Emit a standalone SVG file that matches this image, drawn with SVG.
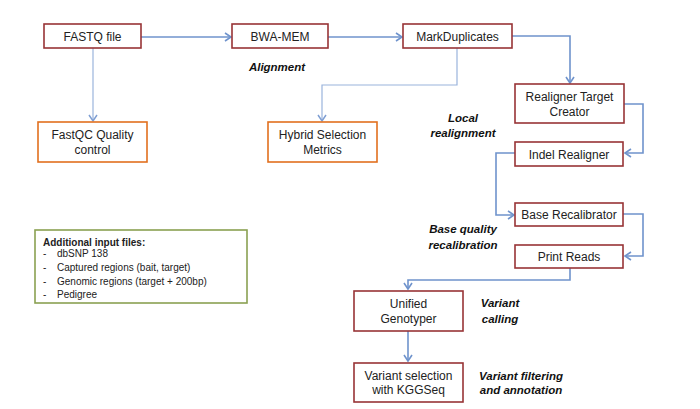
<svg xmlns="http://www.w3.org/2000/svg" width="700" height="409" viewBox="0 0 700 409">
<defs>
<marker id="arr" markerWidth="10" markerHeight="10" refX="7" refY="5" orient="auto" markerUnits="userSpaceOnUse">
<path d="M1,1 L7,5 L1,9" fill="none" stroke="#6F93CC" stroke-width="1.6"/>
</marker>
<marker id="arrl" markerWidth="10" markerHeight="10" refX="7" refY="5" orient="auto" markerUnits="userSpaceOnUse">
<path d="M1,1 L7,5 L1,9" fill="none" stroke="#7E9ED3" stroke-width="1.5"/>
</marker>
</defs>
<style>
.n{fill:#fff;stroke:#983436;stroke-width:1.6}
.o{fill:#fff;stroke:#E1701E;stroke-width:1.6}
.g{fill:#fff;stroke:#8AA152;stroke-width:1.6}
.t{font-family:"Liberation Sans",Arial,sans-serif;font-size:12px;fill:#222;text-anchor:middle}
.l{font-family:"Liberation Sans",Arial,sans-serif;font-size:11.5px;font-weight:bold;font-style:italic;fill:#111;text-anchor:middle}
.s{font-family:"Liberation Sans",Arial,sans-serif;font-size:10px;fill:#222}
.c{fill:none;stroke:#6F93CC;stroke-width:1.6}
.cl{fill:none;stroke:#9AB4DC;stroke-width:1.2}
</style>
<rect width="700" height="409" fill="#fff"/>
<g id="connectors">
<path class="c" d="M141,37 H231" marker-end="url(#arr)"/>
<path class="c" d="M328,37 H402" marker-end="url(#arr)"/>
<path class="c" d="M512,36 H570 V83" marker-end="url(#arr)"/>
<path class="cl" d="M93,48 V121" marker-end="url(#arrl)"/>
<path class="cl" d="M457,48 V85 H322 V121" marker-end="url(#arrl)"/>
<path class="c" d="M624,104 H643 V153 H625" marker-end="url(#arr)"/>
<path class="c" d="M515,153 H496 V215 H514" marker-end="url(#arr)"/>
<path class="c" d="M623,214 H643 V256 H625" marker-end="url(#arr)"/>
<path class="c" d="M570,268 V280 H408 V289" marker-end="url(#arr)"/>
<path class="c" d="M408,331 V361" marker-end="url(#arr)"/>
</g>
<g id="fastq"><rect class="n" x="44" y="24" width="97" height="24"/><text class="t" x="92.5" y="40.5">FASTQ file</text></g>
<g id="bwa"><rect class="n" x="232" y="24" width="96" height="24"/><text class="t" x="280" y="40.5">BWA-MEM</text></g>
<g id="markdup"><rect class="n" x="403" y="24" width="109" height="24"/><text class="t" x="457.5" y="40.5">MarkDuplicates</text></g>
<g id="fastqc"><rect class="o" x="38" y="122" width="109" height="40"/><text class="t" x="92.5" y="139">FastQC Quality</text><text class="t" x="92.5" y="154">control</text></g>
<g id="hybrid"><rect class="o" x="268" y="122" width="109" height="40"/><text class="t" x="322.5" y="139">Hybrid Selection</text><text class="t" x="322.5" y="154">Metrics</text></g>
<g id="rtc"><rect class="n" x="515" y="84" width="109" height="39"/><text class="t" x="569.5" y="101">Realigner Target</text><text class="t" x="569.5" y="116">Creator</text></g>
<g id="indel"><rect class="n" x="515" y="142" width="108" height="24"/><text class="t" x="569" y="158.5">Indel Realigner</text></g>
<g id="bqsr"><rect class="n" x="515" y="203" width="108" height="23"/><text class="t" x="569" y="219">Base Recalibrator</text></g>
<g id="print"><rect class="n" x="515" y="245" width="108" height="23"/><text class="t" x="569" y="261">Print Reads</text></g>
<g id="ug"><rect class="n" x="354" y="291" width="109" height="40"/><text class="t" x="408.5" y="308">Unified</text><text class="t" x="408.5" y="323">Genotyper</text></g>
<g id="kgg"><rect class="n" x="354" y="363" width="109" height="39"/><text class="t" x="408.5" y="380">Variant selection</text><text class="t" x="408.5" y="394">with KGGSeq</text></g>
<g id="inputs"><rect class="g" x="35" y="230" width="212" height="73"/>
<text class="s" x="43" y="246" font-weight="bold">Additional input files:</text>
<text class="s" x="43" y="257">-</text><text class="s" x="57" y="257">dbSNP 138</text>
<text class="s" x="43" y="271">-</text><text class="s" x="57" y="271">Captured regions (bait, target)</text>
<text class="s" x="43" y="285">-</text><text class="s" x="57" y="285">Genomic regions (target + 200bp)</text>
<text class="s" x="43" y="298">-</text><text class="s" x="57" y="298">Pedigree</text>
</g>
<g id="labels">
<text class="l" x="277" y="71">Alignment</text>
<text class="l" x="463" y="122">Local</text>
<text class="l" x="463" y="137">realignment</text>
<text class="l" x="463" y="233">Base quality</text>
<text class="l" x="463" y="249">recalibration</text>
<text class="l" x="500" y="307">Variant</text>
<text class="l" x="500" y="323">calling</text>
<text class="l" x="521" y="380">Variant filtering</text>
<text class="l" x="521" y="394">and annotation</text>
</g>
</svg>
